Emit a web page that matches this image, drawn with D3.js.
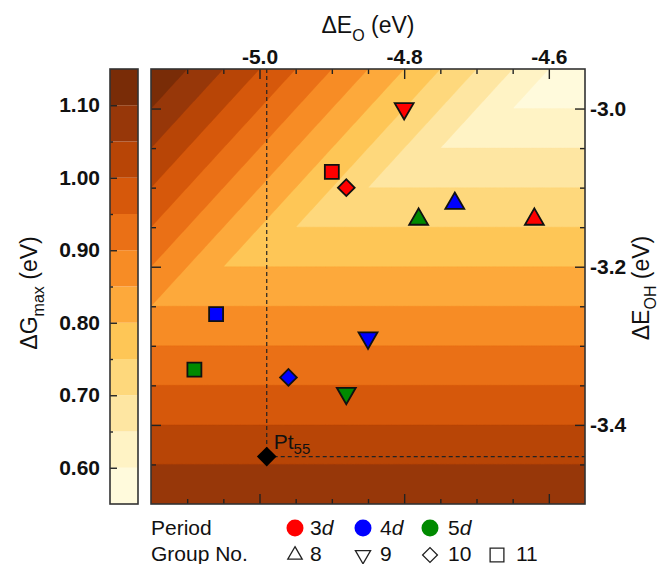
<!DOCTYPE html>
<meta charset="utf-8">
<head>
<style>
  body { margin: 0; background: #fff; }
  svg text { font-family: "Liberation Sans", Arial, sans-serif; fill: #111; }
  .axis path { display: none; }
  .axis line { stroke: #222; stroke-width: 1.4; }
  .axis .tick text { font-size: 21px; font-weight: bold; fill: #111; font-family: "Liberation Sans", Arial, sans-serif; }
  .frame { fill: none; stroke: #333; stroke-width: 1.6; }
  .title { font-size: 23px; }
  .legend { font-size: 21px; }
</style>
</head>
<body>
<script src="https://d3js.org/d3.v7.min.js"></script>
<script>
// colour levels of dG_max (eV), one band every 0.05
var levels = [0.55, 0.60, 0.65, 0.70, 0.75, 0.80, 0.85, 0.90, 0.95, 1.00, 1.05, 1.10];
var levelColors = ["#fffadc", "#fff3c5", "#fee6a2", "#fed87c", "#fec656", "#fda93b",
                   "#f78c25", "#ea7016", "#d6580b", "#b84506", "#973709", "#792c07"];

// tick values
var eoMajor = [-5.0, -4.8, -4.6];
var eoMinor = [-5.10, -5.05, -4.95, -4.90, -4.85, -4.75, -4.70, -4.65];
var eohMajor = [-3.0, -3.2, -3.4];
var eohMinor = [-3.45, -3.35, -3.30, -3.25, -3.15, -3.10, -3.05];
var gMajor = [0.60, 0.70, 0.80, 0.90, 1.00, 1.10];
var gMinor = [0.65, 0.75, 0.85, 0.95, 1.05];

// the two limiting steps: dG = a + b*dE_O + c*dE_OH
var stepOH = {a: -2.40, b: 0, c: -1};
var stepO = {a: -1.05, b: -1, c: 1};

// clusters, group 8, 9, 10, 11  (dE_O, dE_OH in eV)
var groups = [8, 9, 10, 11];
var periods = ["3d", "4d", "5d"];
var periodColors = ["#ff0000", "#0000ff", "#008a00"];
var eO3d = [-4.62, -4.80, -4.88, -4.90];
var eOH3d = [-3.14, -3.00, -3.10, -3.08];
var eO4d = [-4.73, -4.85, -4.96, -5.06];
var eOH4d = [-3.12, -3.29, -3.34, -3.26];
var eO5d = [-4.78, -4.88, null, -5.09];
var eOH5d = [-3.14, -3.36, null, -3.33];
var pt55 = [-4.99, -3.44];

var W = 658, H = 564;
var pL = 151, pR = 585, pT = 69, pB = 504;

var x = d3.scaleLinear().domain([-5.15, -4.55]).range([pL, pR]);
var y = d3.scaleLinear().domain([-3.5, -2.95]).range([pB, pT]);
var g = d3.scaleLinear().domain([0.55, 1.15]).range([pB, pT]);

var svg = d3.select("body").append("svg")
    .attr("width", W)
    .attr("height", H);

// ---- contour map ----
var nx = 480, ny = 440;
var sx = 0.6 / nx, sy = 0.55 / ny;
var values = new Array(nx * ny);
for (var j = 0; j < ny; j++) {
  var eoh = -2.95 - (j + 0.5) * sy;
  for (var i = 0; i < nx; i++) {
    var eo = -5.15 + (i + 0.5) * sx;
    var g1 = stepOH.a + stepOH.b * eo + stepOH.c * eoh;
    var g2 = stepO.a + stepO.b * eo + stepO.c * eoh;
    values[j * nx + i] = Math.max(g1, g2);
  }
}

var contours = d3.contours().size([nx, ny]).thresholds(levels)(values);

var proj = d3.geoTransform({
  point: function(px, py) {
    this.stream.point(x(-5.15 + px * sx), y(-2.95 - py * sy));
  }
});
var path = d3.geoPath(proj);

svg.append("defs").append("clipPath").attr("id", "plotclip")
  .append("rect").attr("x", pL).attr("y", pT)
  .attr("width", pR - pL).attr("height", pB - pT);

svg.append("g").attr("clip-path", "url(#plotclip)")
  .selectAll("path")
  .data(contours)
  .enter().append("path")
    .attr("d", path)
    .attr("fill", function(d, k) { return levelColors[k]; })
    .attr("stroke", function(d, k) { return levelColors[k]; })
    .attr("stroke-width", 0.4);

// ---- colour bar ----
var cbL = 110, cbR = 138;
svg.append("g").selectAll("rect")
  .data(levels)
  .enter().append("rect")
    .attr("x", cbL)
    .attr("width", cbR - cbL)
    .attr("y", function(d) { return g(d + 0.05); })
    .attr("height", function(d) { return g(d) - g(d + 0.05); })
    .attr("fill", function(d, k) { return levelColors[k]; });

svg.append("g").attr("class", "axis")
  .attr("transform", "translate(" + cbL + ",0)")
  .call(d3.axisLeft(g).tickValues(gMajor).tickSize(-7).tickPadding(10)
        .tickFormat(d3.format(".2f")));
svg.append("g").attr("class", "axis")
  .attr("transform", "translate(" + cbL + ",0)")
  .call(d3.axisLeft(g).tickValues(gMinor).tickSize(-3).tickFormat(""));

svg.append("rect").attr("class", "frame")
  .attr("x", cbL).attr("y", pT)
  .attr("width", cbR - cbL).attr("height", pB - pT);

// ---- axes of the map ----
function fmt1(d) { return d3.format(".1f")(d).replace("\u2212", "-"); }

svg.append("g").attr("class", "axis")
  .attr("transform", "translate(0," + pT + ")")
  .call(d3.axisTop(x).tickValues(eoMajor).tickSize(-10).tickPadding(5).tickFormat(fmt1));
svg.append("g").attr("class", "axis")
  .attr("transform", "translate(0," + pT + ")")
  .call(d3.axisTop(x).tickValues(eoMinor).tickSize(-5).tickFormat(""));

svg.append("g").attr("class", "axis")
  .attr("transform", "translate(0," + pB + ")")
  .call(d3.axisBottom(x).tickValues(eoMajor).tickSize(-10).tickFormat(""));
svg.append("g").attr("class", "axis")
  .attr("transform", "translate(0," + pB + ")")
  .call(d3.axisBottom(x).tickValues(eoMinor).tickSize(-5).tickFormat(""));

svg.append("g").attr("class", "axis")
  .attr("transform", "translate(" + pR + ",0)")
  .call(d3.axisRight(y).tickValues(eohMajor).tickSize(-10).tickPadding(5).tickFormat(fmt1));
svg.append("g").attr("class", "axis")
  .attr("transform", "translate(" + pR + ",0)")
  .call(d3.axisRight(y).tickValues(eohMinor).tickSize(-5).tickFormat(""));

svg.append("g").attr("class", "axis")
  .attr("transform", "translate(" + pL + ",0)")
  .call(d3.axisLeft(y).tickValues(eohMajor).tickSize(-10).tickFormat(""));
svg.append("g").attr("class", "axis")
  .attr("transform", "translate(" + pL + ",0)")
  .call(d3.axisLeft(y).tickValues(eohMinor).tickSize(-5).tickFormat(""));

// Pt55 reference lines
svg.append("line")
  .attr("x1", x(pt55[0])).attr("x2", x(pt55[0]))
  .attr("y1", pT).attr("y2", y(pt55[1]))
  .attr("stroke", "#222").attr("stroke-width", 1.2).attr("stroke-dasharray", "4,3");
svg.append("line")
  .attr("x1", x(pt55[0])).attr("x2", pR)
  .attr("y1", y(pt55[1])).attr("y2", y(pt55[1]))
  .attr("stroke", "#222").attr("stroke-width", 1.2).attr("stroke-dasharray", "4,3");

svg.append("rect").attr("class", "frame")
  .attr("x", pL).attr("y", pT)
  .attr("width", pR - pL).attr("height", pB - pT);

// ---- markers ----
var shapes = [
  {type: d3.symbolTriangle, size: 155, rot: 0},
  {type: d3.symbolTriangle, size: 155, rot: 180},
  {type: d3.symbolSquare, size: 140, rot: 45},
  {type: d3.symbolSquare, size: 195, rot: 0}
];

var points = [];
[[eO3d, eOH3d], [eO4d, eOH4d], [eO5d, eOH5d]].forEach(function(s, p) {
  groups.forEach(function(gr, k) {
    if (s[0][k] == null) return;
    points.push({eo: s[0][k], eoh: s[1][k], period: p, group: k});
  });
});

svg.append("g").selectAll("path")
  .data(points)
  .enter().append("path")
    .attr("d", function(d) { return d3.symbol().type(shapes[d.group].type).size(shapes[d.group].size)(); })
    .attr("transform", function(d) {
      return "translate(" + x(d.eo) + "," + y(d.eoh) + ") rotate(" + shapes[d.group].rot + ")";
    })
    .attr("fill", function(d) { return periodColors[d.period]; })
    .attr("stroke", "#111")
    .attr("stroke-width", 1.8)
    .attr("stroke-linejoin", "miter");

svg.append("path")
  .attr("d", d3.symbol().type(d3.symbolSquare).size(195)())
  .attr("transform", "translate(" + x(pt55[0]) + "," + y(pt55[1]) + ") rotate(45)")
  .attr("fill", "#000");

var ptLabel = svg.append("text").attr("x", x(pt55[0]) + 7).attr("y", y(pt55[1]) - 8)
  .style("font-size", "21px");
ptLabel.append("tspan").text("Pt");
ptLabel.append("tspan").attr("dy", 5).style("font-size", "15px").text("55");

// ---- titles ----
var tTop = svg.append("text").attr("class", "title")
  .attr("x", (pL + pR) / 2).attr("y", 33).attr("text-anchor", "middle");
tTop.append("tspan").text("\u0394E");
tTop.append("tspan").attr("dy", 8).style("font-size", "16px").text("O");
tTop.append("tspan").attr("dy", -8).text(" (eV)");

var tLeft = svg.append("text").attr("class", "title")
  .attr("transform", "translate(37,293) rotate(-90)").attr("text-anchor", "middle");
tLeft.append("tspan").text("\u0394G");
tLeft.append("tspan").attr("dy", 7).style("font-size", "16px").text("max");
tLeft.append("tspan").attr("dy", -7).text(" (eV)");

var tRight = svg.append("text").attr("class", "title")
  .attr("transform", "translate(649,288) rotate(-90)").attr("text-anchor", "middle");
tRight.append("tspan").text("\u0394E");
tRight.append("tspan").attr("dy", 7).style("font-size", "16px").text("OH");
tRight.append("tspan").attr("dy", -7).text(" (eV)");

// ---- legend ----
var lg = svg.append("g").attr("class", "legend");
var row1 = 535, row2 = 561;
var symX = [295, 363, 430, 497];
var labX = [310, 380, 448, 516];

lg.append("text").attr("x", pL).attr("y", row1).text("Period");
periods.forEach(function(p, k) {
  lg.append("circle").attr("cx", symX[k]).attr("cy", row1 - 7).attr("r", 8.5)
    .attr("fill", periodColors[k]);
  var t = lg.append("text").attr("x", labX[k]).attr("y", row1);
  t.append("tspan").text(p.charAt(0));
  t.append("tspan").style("font-style", "italic").text(p.charAt(1));
});

var legSize = [90, 100, 110, 190];
lg.append("text").attr("x", pL).attr("y", row2).text("Group No.");
groups.forEach(function(gr, k) {
  lg.append("path")
    .attr("d", d3.symbol().type(shapes[k].type).size(legSize[k])())
    .attr("transform", "translate(" + symX[k] + "," + (row2 - 6) + ") rotate(" + shapes[k].rot + ")")
    .attr("fill", "none").attr("stroke", "#222").attr("stroke-width", 1.3);
  lg.append("text").attr("x", labX[k]).attr("y", row2).text(gr);
});
</script>
</body>
